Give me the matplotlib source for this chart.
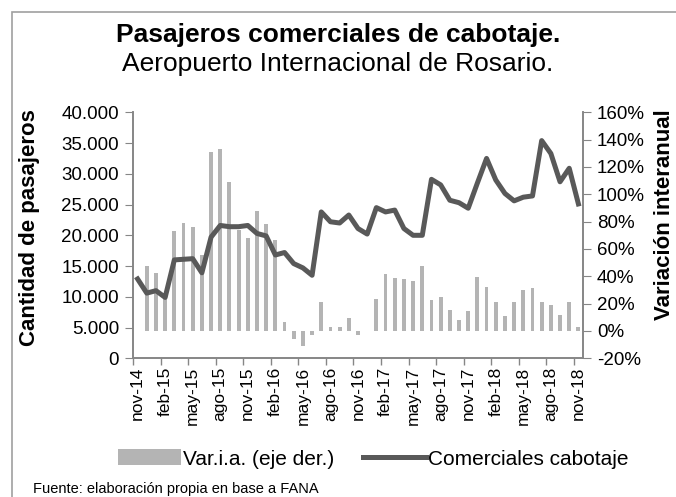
import matplotlib
matplotlib.use("Agg")
import matplotlib.pyplot as plt
from matplotlib.patches import Rectangle
from matplotlib.ticker import FuncFormatter

plt.rcParams['font.family'] = ['Liberation Sans', 'DejaVu Sans']

# monthly series, nov-14 .. nov-18
meses = ['nov', 'dic', 'ene', 'feb', 'mar', 'abr', 'may', 'jun', 'jul', 'ago', 'sep', 'oct']
anios = ['14'] * 2 + ['15'] * 12 + ['16'] * 12 + ['17'] * 12 + ['18'] * 11
mes_idx = [(i % 12) for i in range(49)]
labels = [f"{meses[m]}-{a}" for m, a in zip(mes_idx, anios)]

pasajeros = [12900, 10600, 11000, 9900, 16000, 16100, 16200, 13900, 19700, 21600,
             21400, 21400, 21600, 20300, 19900, 16800, 17200, 15400, 14700, 13500,
             23800, 22200, 22000, 23300, 21100, 20200, 24500, 23800, 24100, 21100,
             20000, 20000, 29100, 28200, 25700, 25300, 24400, 28500, 32500, 29000,
             26800, 25600, 26200, 26400, 35400, 33300, 28700, 30900, 25100]

# year-on-year variation (%), no value for the first month
var_ia = [None, 47.6, 42.7, 28.0, 73.2, 78.8, 76.3, 55.6, 131.2, 133.1,
          109.2, 74.0, 67.8, 87.8, 78.3, 66.6, 6.8, -6.1, -11.0, -2.9,
          21.5, 2.7, 2.7, 9.3, -2.9, 0.3, 23.4, 41.7, 38.5, 38.0,
          36.6, 47.8, 22.7, 24.6, 15.4, 8.0, 14.9, 39.3, 32.4, 21.5,
          11.2, 21.0, 30.0, 31.2, 21.5, 19.0, 11.7, 21.5, 3.2]

x = list(range(len(labels)))
bar_x = [i for i, v in zip(x, var_ia) if v is not None]
bar_v = [v for v in var_ia if v is not None]

W, H = 676, 497
fig = plt.figure(figsize=(W / 100, H / 100), dpi=100)
ax = fig.add_axes([133 / W, 1 - 358.3 / H, 450 / W, 246 / H])
ax2 = ax.twinx()

axis_grey = '#868686'

bars = ax2.bar(bar_x, bar_v, width=0.42, color='#b4b4b4', label='Var.i.a. (eje der.)')
line, = ax.plot(x, pasajeros, color='#595959', linewidth=3.6, label='Comerciales cabotaje',
                solid_joinstyle='round')

ax.set_zorder(ax2.get_zorder() + 1)
ax.patch.set_visible(False)

ax.set_xlim(-0.5, len(x) - 0.5)
ax.set_ylim(0, 40000)
ax.set_yticks(range(0, 40001, 5000))
ax.yaxis.set_major_formatter(FuncFormatter(lambda v, p: f"{int(v):,}".replace(',', '.')))
ax2.set_ylim(-20, 160)
ax2.set_yticks(range(-20, 161, 20))
ax2.yaxis.set_major_formatter(FuncFormatter(lambda v, p: f"{int(v)}%"))

# ticks between categories, labels centred every 3 months
ax.set_xticks([i - 0.5 for i in range(0, len(x), 3)])
ax.set_xticklabels([])
ax.set_xticks(x[::3], minor=True)
ax.set_xticklabels(labels[::3], minor=True, rotation=90)
ax.tick_params(axis='x', which='minor', length=0, pad=6, labelsize=12.5)
ax.tick_params(axis='x', which='major', length=5, color=axis_grey, width=1)
ax.tick_params(axis='y', length=6, color=axis_grey, labelsize=13.5, pad=4)
ax2.tick_params(axis='y', length=6, color=axis_grey, labelsize=13.5, pad=4)

for a in (ax, ax2):
    a.spines['top'].set_visible(False)
    for s in ('left', 'right', 'bottom'):
        a.spines[s].set_color(axis_grey)
        a.spines[s].set_linewidth(1.2)

fig.text(30 / W, 1 - 228 / H, 'Cantidad de pasajeros', rotation=90, ha='center', va='center',
         fontsize=16, fontweight='bold')
fig.text(665 / W, 1 - 215 / H, 'Variación interanual', rotation=90, ha='center', va='center',
         fontsize=16, fontweight='bold')

fig.text(0.5, 1 - 35 / H, 'Pasajeros comerciales de cabotaje.', ha='center', va='center',
         fontsize=19, fontweight='bold')
fig.text(0.5, 1 - 64 / H, 'Aeropuerto Internacional de Rosario.', ha='center', va='center',
         fontsize=19)

fig.legend(handles=[bars, line], loc='center left', bbox_to_anchor=(118 / W, 1 - 459 / H), ncol=2,
           frameon=False, fontsize=15, handlelength=3.0, handleheight=0.8, columnspacing=1.4,
           handletextpad=0.1, borderpad=0, borderaxespad=0)

fig.text(33 / W, 1 - 496 / H, 'Fuente: elaboración propia en base a FANA', ha='left',
         va='bottom', fontsize=10.5)

fig.patches.append(Rectangle((12 / W, -0.1), 1.1, 1.1 - 12 / H, transform=fig.transFigure,
                             fill=False, edgecolor='#a0a0a0', linewidth=1.2))

fig.savefig('out.png', dpi=100)
